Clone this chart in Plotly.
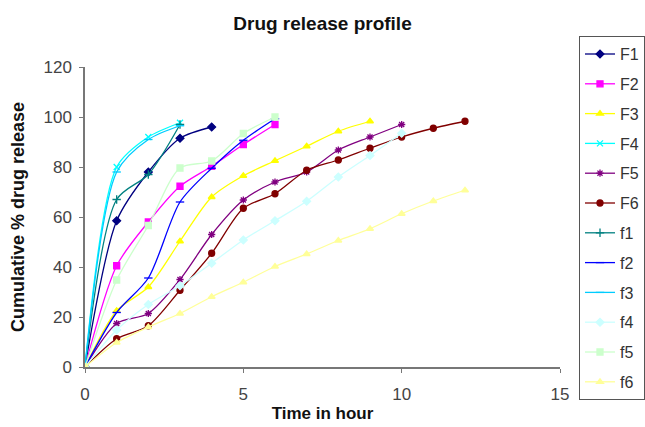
import plotly.graph_objects as go

names = ["F1", "F2", "F3", "F4", "F5", "F6", "f1", "f2", "f3", "f4", "f5", "f6"]
F1 = [0, 58.5, 78, 91.5, 96]
F2 = [0, 40.5, 58, 72.3, 80.3, 89, 97]
F3 = [0, 22.5, 32, 50.3, 68, 76.5, 82.5, 88.3, 94.3, 98.3]
F4 = [0, 80, 92, 97.7]
F5 = [0, 17.4, 21.4, 35, 53, 66.8, 74, 78, 86.8, 92, 97]
F6 = [0, 11.3, 16.5, 30.7, 45.5, 63.5, 69.3, 78.7, 82.8, 87.5, 92, 95.5, 98.3]
f1 = [0, 67, 77, 97]
f2 = [0, 21.8, 35.6, 66, 79.5, 90.7, 99.3]
f3 = [0, 78, 91, 96.5]
f4 = [0, 14.8, 25, 32.5, 41.5, 50.8, 58.5, 66.3, 76, 84.6, 93.5]
f5 = [0, 34.8, 56.6, 79.6, 82.4, 93.4, 100]
f6 = [0, 9.8, 16, 21.4, 28.1, 33.9, 40.2, 45.2, 50.6, 55.3, 61.3, 66.4, 70.7]
series = [F1, F2, F3, F4, F5, F6, f1, f2, f3, f4, f5, f6]

colors = ["#000080", "#FF00FF", "#FFFF00", "#00FFFF", "#800080", "#800000",
          "#008080", "#0000FF", "#00CCFF", "#CCFFFF", "#CCFFCC", "#FFFF99"]
symbols = ["diamond", "square", "triangle-up", "x-thin-open", "asterisk-open", "circle",
           "cross-thin-open", "line-ew-open", "line-ew-open", "diamond", "square", "triangle-up"]

fig = go.Figure()
for i, (n, ys) in enumerate(zip(names, series)):
    fig.add_trace(go.Scatter(
        x=list(range(len(ys))), y=ys, name=n, mode="lines+markers",
        line=dict(color=colors[i], width=1.3, shape="spline", smoothing=0.8),
        marker=dict(symbol=symbols[i], size=6, color=colors[i],
                    line=dict(color=colors[i], width=1.3)),
        legendgroup=n,
    ))

fig.update_layout(
    width=645, height=427,
    margin=dict(l=85, r=85, t=67, b=60, autoexpand=False),
    paper_bgcolor="white", plot_bgcolor="white",
    font=dict(family="Liberation Sans, Arial, sans-serif", size=17, color="#444"),
    title=dict(text="<b>Drug release profile</b>", x=0.5, xref="paper", y=0.962,
               xanchor="center", font=dict(size=19, color="#111")),
    xaxis=dict(range=[0, 15], tickvals=[0, 5, 10, 15], showgrid=False, zeroline=False,
               showline=True, linecolor="#777", linewidth=1.5, ticks="outside",
               ticklen=4, tickcolor="#777", ticklabelstandoff=7,
               tickfont=dict(size=17, color="#444"),
               title=dict(text="<b>Time in hour</b>", font=dict(size=17, color="#111"), standoff=4)),
    yaxis=dict(range=[0, 120], tickvals=[0, 20, 40, 60, 80, 100, 120], showgrid=False,
               zeroline=False, showline=True, linecolor="#777", linewidth=1.5,
               ticks="outside", ticklen=4, tickcolor="#777", ticklabelstandoff=4,
               tickfont=dict(size=17, color="#444"),
               title=dict(text="<b>Cumulative % drug release</b>", font=dict(size=18, color="#111"), standoff=14)),
    legend=dict(x=1.04, y=1.0, xanchor="left", yanchor="top",
                bordercolor="#555", borderwidth=1, bgcolor="white",
                font=dict(size=16, color="#333"), tracegroupgap=6,
                itemwidth=30),
    showlegend=True,
)
try:
    fig.update_layout(legend_maxheight=420, legend_y=1.103)
except Exception:
    pass

fig.write_html("out.html")
